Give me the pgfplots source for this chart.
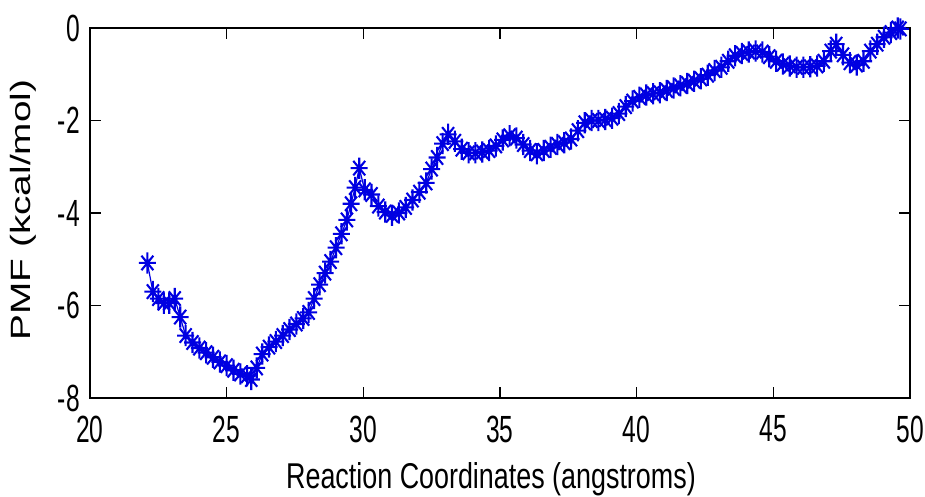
\documentclass[border=0pt]{standalone}
\usepackage{fontspec}
\setmainfont{Liberation Sans}
\newfontfamily\tickfont[FakeStretch=0.65]{Liberation Sans}
\newfontfamily\labfont[FakeStretch=0.75]{Liberation Sans}
\newfontfamily\ylabfont[FakeStretch=1.39]{Liberation Sans}
\usepackage{pgfplots}
\pgfplotsset{compat=1.18}
\pgfdeclareplotmark{mstar}{%
  \pgfpathmoveto{\pgfqpoint{-\pgfplotmarksize}{0pt}}\pgfpathlineto{\pgfqpoint{\pgfplotmarksize}{0pt}}%
  \pgfpathmoveto{\pgfqpoint{0pt}{-1.25\pgfplotmarksize}}\pgfpathlineto{\pgfqpoint{0pt}{1.25\pgfplotmarksize}}%
  \pgfpathmoveto{\pgfqpoint{-0.7\pgfplotmarksize}{-0.85\pgfplotmarksize}}\pgfpathlineto{\pgfqpoint{0.7\pgfplotmarksize}{0.85\pgfplotmarksize}}%
  \pgfpathmoveto{\pgfqpoint{-0.7\pgfplotmarksize}{0.85\pgfplotmarksize}}\pgfpathlineto{\pgfqpoint{0.7\pgfplotmarksize}{-0.85\pgfplotmarksize}}%
  \pgfusepathqstroke}
\begin{document}
\begin{tikzpicture}
\useasboundingbox[fill=white] (0,0) rectangle (925bp,497bp);
\begin{axis}[
  at={(90bp,99bp)}, anchor=south west,
  scale only axis,
  width=820bp, height=370bp,
  xmin=20, xmax=50, ymin=-8, ymax=0,
  xtick={20,25,...,50}, ytick={-8,-6,...,0},
  tick align=inside, major tick length=11bp,
  axis line style={line width=1.5bp},
  every tick/.style={black, line width=1.3bp},
  /pgf/number format/assume math mode=true,
  xticklabel style={font=\tickfont\fontsize{38}{40}\selectfont, anchor=center, yshift=-31bp, inner sep=0pt},
  yticklabel style={font=\tickfont\fontsize{38}{40}\selectfont, anchor=east, xshift=-10bp, inner sep=0pt},
  xlabel={Reaction Coordinates (angstroms)},
  ylabel={PMF (kcal/mol)},
  xlabel style={font=\labfont\fontsize{36}{40}\selectfont, at={(axis description cs:0.489,0)}, anchor=base, yshift=-90bp, inner sep=0pt},
  ylabel style={font=\ylabfont\fontsize{28}{32}\selectfont, at={(axis description cs:-0.0817,0.508)}, anchor=center, inner sep=0pt},
]
\addplot[color={rgb,255:red,0;green,0;blue,225}, line width=1.2pt, mark=mstar, mark size=8.5bp, mark options={line width=2.1bp}] coordinates {
(22.1,-5.08)(22.3,-5.70)(22.5,-5.85)(22.7,-5.95)(22.9,-5.95)(23.1,-5.85)(23.3,-6.25)(23.5,-6.65)
(23.75,-6.80)(24.0,-6.92)(24.25,-7.02)(24.5,-7.12)(24.75,-7.22)(25.0,-7.30)(25.25,-7.40)(25.5,-7.48)
(25.75,-7.52)(25.9,-7.60)(26.1,-7.35)(26.3,-7.05)(26.55,-6.90)(26.8,-6.78)(27.05,-6.65)(27.3,-6.52)
(27.55,-6.40)(27.8,-6.28)(28.0,-6.15)(28.2,-5.85)(28.4,-5.55)(28.6,-5.30)(28.8,-5.05)(29.0,-4.75)
(29.2,-4.45)(29.4,-4.15)(29.55,-3.80)(29.7,-3.45)(29.85,-3.03)(30.05,-3.50)(30.3,-3.60)(30.55,-3.85)
(30.8,-3.98)(31.05,-4.05)(31.3,-4.00)(31.55,-3.88)(31.8,-3.72)(32.05,-3.55)(32.3,-3.35)(32.5,-3.05)
(32.7,-2.80)(32.9,-2.50)(33.1,-2.30)(33.35,-2.45)(33.6,-2.62)(33.85,-2.70)(34.1,-2.70)(34.35,-2.68)
(34.6,-2.65)(34.85,-2.55)(35.1,-2.42)(35.35,-2.33)(35.6,-2.38)(35.85,-2.52)(36.1,-2.65)(36.35,-2.72)
(36.6,-2.65)(36.85,-2.58)(37.1,-2.52)(37.35,-2.48)(37.6,-2.40)(37.85,-2.22)(38.1,-2.05)(38.35,-2.00)
(38.6,-2.00)(38.85,-1.98)(39.1,-1.95)(39.35,-1.85)(39.6,-1.70)(39.85,-1.58)(40.1,-1.50)(40.35,-1.45)
(40.6,-1.42)(40.85,-1.40)(41.1,-1.35)(41.35,-1.30)(41.6,-1.25)(41.85,-1.20)(42.1,-1.15)(42.35,-1.10)
(42.6,-1.02)(42.85,-0.92)(43.1,-0.85)(43.35,-0.72)(43.6,-0.60)(43.85,-0.55)(44.1,-0.52)(44.35,-0.50)
(44.6,-0.52)(44.85,-0.62)(45.1,-0.72)(45.35,-0.78)(45.6,-0.82)(45.85,-0.85)(46.1,-0.85)(46.35,-0.84)
(46.6,-0.82)(46.85,-0.72)(47.1,-0.50)(47.3,-0.35)(47.55,-0.58)(47.8,-0.75)(48.05,-0.80)(48.3,-0.72)
(48.55,-0.50)(48.8,-0.35)(49.05,-0.20)(49.3,-0.10)(49.55,0.00)(49.65,-0.02)
};
\end{axis}
\end{tikzpicture}
\end{document}
